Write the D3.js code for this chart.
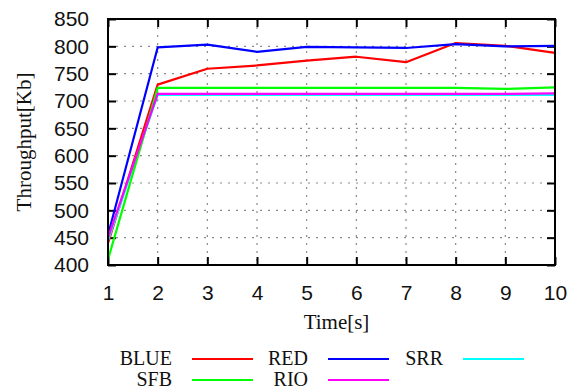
<!DOCTYPE html>
<html><head><meta charset="utf-8">
<script src="https://cdn.jsdelivr.net/npm/d3@7"></script>
<style>
html,body{margin:0;padding:0;background:#fff;}
svg{display:block;}
</style></head>
<body>
<svg id="chart" width="576" height="391"></svg>
<script>
const times = [1,2,3,4,5,6,7,8,9,10];
const seriesNames = ["BLUE","RED","SRR","SFB","RIO"];
const seriesColors = ["#ff0000","#0000ff","#00ffff","#00ff00","#ff00ff"];
const blueVals = [440,730,759,765,774,781,771,806,801,788];
const redVals  = [455,798,803,790,799,798,797,804,800,801];
const srrVals  = [445,711,711,711,711,711,711,711,711,711];
const sfbVals  = [410,724,724,724,724,724,724,724,722,725];
const rioVals  = [450,713,713,713,713,713,713,713,713,714];
const yTicks = [400,450,500,550,600,650,700,750,800,850];
const xTicks = [1,2,3,4,5,6,7,8,9,10];
const xLabel = "Time[s]";
const yLabel = "Throughput[Kb]";

const allVals = [blueVals, redVals, srrVals, sfbVals, rioVals];

const svg = d3.select("#chart");
const L = 108, R = 555, T = 19, B = 265;
const x = d3.scaleLinear().domain([1,10]).range([L,R]);
const y = d3.scaleLinear().domain([400,850]).range([B,T]);

// grid
const grid = svg.append("g");
grid.selectAll("line.gy").data(yTicks.slice(1,-1)).enter().append("line")
  .attr("x1",L).attr("x2",R).attr("y1",d=>y(d)).attr("y2",d=>y(d))
  .attr("stroke","#8a8a8a").attr("stroke-width",1.2).attr("stroke-dasharray","2,6");
grid.selectAll("line.gx").data(xTicks.slice(1,-1)).enter().append("line")
  .attr("y1",T).attr("y2",B).attr("x1",d=>x(d)).attr("x2",d=>x(d))
  .attr("stroke","#8a8a8a").attr("stroke-width",1.2).attr("stroke-dasharray","2,6");

// axes via d3 axis (ticks inward)
const tickFont = "'Liberation Sans', Arial, sans-serif";
const yAxis = svg.append("g").attr("transform",`translate(${L},0)`)
  .call(d3.axisLeft(y).tickValues(yTicks).tickSize(-8).tickPadding(19));
const xAxis = svg.append("g").attr("transform",`translate(0,${B})`)
  .call(d3.axisBottom(x).tickValues(xTicks).tickSize(-8).tickPadding(20));
const yAxisR = svg.append("g").attr("transform",`translate(${R},0)`)
  .call(d3.axisRight(y).tickValues(yTicks).tickSize(-8).tickFormat(""));
const xAxisT = svg.append("g").attr("transform",`translate(0,${T})`)
  .call(d3.axisTop(x).tickValues(xTicks).tickSize(-8).tickFormat(""));
[yAxis,xAxis,yAxisR,xAxisT].forEach(a=>{
  a.select(".domain").remove();
  a.selectAll(".tick line").attr("stroke","#000").attr("stroke-width",2);
  a.selectAll(".tick text").attr("fill","#111").style("font-family",tickFont).style("font-size","21px");
});

// lines
const line = d3.line().x((d,i)=>x(times[i])).y(d=>y(d));
allVals.forEach((vals,k)=>{
  svg.append("path").datum(vals).attr("d",line).attr("fill","none")
    .attr("stroke",seriesColors[k]).attr("stroke-width",2.2).attr("stroke-linejoin","round");
});

// border
svg.append("rect").attr("x",L).attr("y",T).attr("width",R-L).attr("height",B-T)
  .attr("fill","none").attr("stroke","#000").attr("stroke-width",2);

const labelFont = "'Liberation Serif', 'Times New Roman', serif";
svg.append("text").attr("x",(L+R)/2+5).attr("y",329).attr("text-anchor","middle")
  .style("font-family",labelFont).style("font-size","21px").attr("fill","#111").text(xLabel);
svg.append("text").attr("transform",`translate(31,${(T+B)/2}) rotate(-90)`).attr("text-anchor","middle")
  .style("font-family",labelFont).style("font-size","21px").attr("fill","#111").text(yLabel);

// legend
const colText = [172,308,443];
const rowY = [359,380];
seriesNames.forEach((name,k)=>{
  const c = k%3, r = Math.floor(k/3);
  svg.append("text").attr("x",colText[c]).attr("y",rowY[r]+6).attr("text-anchor","end")
    .style("font-family",labelFont).style("font-size","20px").attr("fill","#111").text(name);
  svg.append("line").attr("x1",colText[c]+20).attr("x2",colText[c]+81)
    .attr("y1",rowY[r]).attr("y2",rowY[r]).attr("stroke",seriesColors[k]).attr("stroke-width",2.2);
});
</script>
</body></html>
